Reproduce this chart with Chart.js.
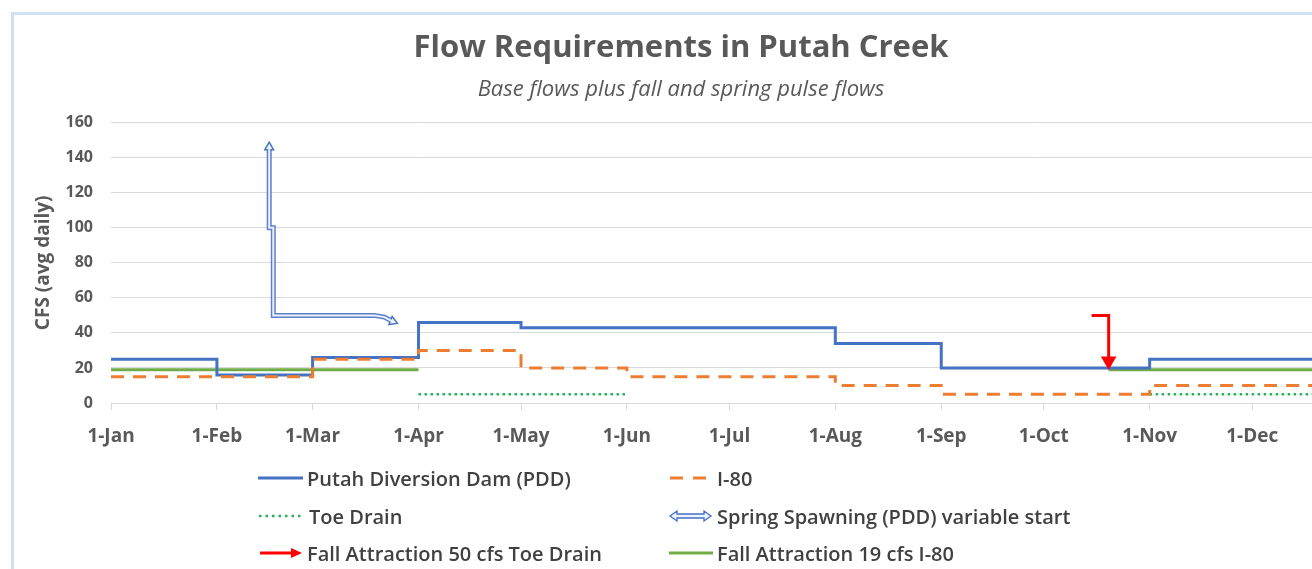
<!DOCTYPE html>
<html lang="en">
<head>
<meta charset="UTF-8" />
<title>Flow Requirements in Putah Creek</title>
<script src="https://cdn.jsdelivr.net/npm/chart.js"></script>
<style>
  * { margin: 0; padding: 0; box-sizing: border-box; }
  html, body { width: 1312px; height: 569px; overflow: hidden; background: #fff; }
  body { position: relative; font-family: 'Open Sans', sans-serif; }
  .frame {
    position: absolute; left: 11px; top: 12px; width: 1340px; height: 600px;
    border-top: 3px solid #cfe1f3; border-left: 3px solid #cfe1f3;
  }
  #wrap { position: absolute; left: 0; top: 0; width: 1350px; height: 569px; }
  .item {
    position: absolute; display: flex; align-items: center; height: 26px;
    font-size: 20px; font-weight: 600; color: #404040; white-space: nowrap;
  }
  .item svg { margin-right: 3px; }
</style>
</head>
<body>
  <div class="frame"></div>
  <div id="wrap"><canvas id="flowChart"></canvas></div>

  <div class="item" style="left:258px; top:465px;">
    <svg width="46" height="14"><line x1="0" y1="7" x2="45" y2="7" stroke="#4472c4" stroke-width="3"/></svg>
    <span id="lg0"></span>
  </div>
  <div class="item" style="left:668px; top:465px;">
    <svg width="46" height="14"><line x1="2" y1="7" x2="42" y2="7" stroke="#ed7d31" stroke-width="3" stroke-dasharray="13 10"/></svg>
    <span id="lg1"></span>
  </div>
  <div class="item" style="left:256px; top:503px;">
    <svg width="50" height="14"><line x1="3" y1="7" x2="48" y2="7" stroke="#22b35c" stroke-width="2.5" stroke-dasharray="2.5 4"/></svg>
    <span id="lg2"></span>
  </div>
  <div class="item" style="left:668px; top:503px;">
    <svg width="46" height="14"><path d="M2,7 L9,2 L9,5 L36,5 L36,2 L43,7 L36,12 L36,9 L9,9 L9,12 Z" fill="#eef2fb" stroke="#4472c4" stroke-width="1.3"/></svg>
    <span id="lg3"></span>
  </div>
  <div class="item" style="left:258px; top:540px;">
    <svg width="46" height="14"><line x1="2" y1="7" x2="36" y2="7" stroke="#ff0000" stroke-width="3"/><polygon points="33,2 44,7 33,12" fill="#ff0000"/></svg>
    <span id="lg4"></span>
  </div>
  <div class="item" style="left:668px; top:540px;">
    <svg width="46" height="14"><line x1="1" y1="7" x2="45" y2="7" stroke="#70ad47" stroke-width="3"/></svg>
    <span id="lg5"></span>
  </div>

<script>
  // x values are day of year (1-Jan = 0)
  const monthStarts = [0, 31, 59, 90, 120, 151, 181, 212, 243, 273, 304, 334];
  const monthLabels = ['1-Jan', '1-Feb', '1-Mar', '1-Apr', '1-May', '1-Jun', '1-Jul', '1-Aug', '1-Sep', '1-Oct', '1-Nov', '1-Dec'];

  const seriesNames = [
    'Putah Diversion Dam (PDD)',
    'I-80',
    'Toe Drain',
    'Spring Spawning (PDD) variable start',
    'Fall Attraction 50 cfs Toe Drain',
    'Fall Attraction 19 cfs I-80'
  ];

  const pddDays = [0, 31, 59, 90, 120, 212, 243, 304, 360];
  const pddCfs  = [25, 16, 26, 46, 43, 34, 20, 25, 25];

  const i80Days = [0, 59, 90, 120, 151, 212, 243, 304, 360];
  const i80Cfs  = [15, 25, 30, 20, 15, 10, 5, 10, 10];

  const toeDays = [90, 151, 152, 304, 360];
  const toeCfs  = [5, 5, null, 5, 5];

  const fall19Days = [0, 90, 91, 292, 360];
  const fall19Cfs  = [19, 19, null, 19, 19];

  const fall50Days = [287, 292, 292];
  const fall50Cfs  = [50, 50, 24];

  const spawnDays = [46.3, 46.3, 47.5, 47.5, 77, 80, 82.5];
  const spawnCfs  = [146, 100, 100, 50, 50, 49, 46.5];

  const pts = (xs, ys) => xs.map((x, i) => ({ x: x, y: ys[i] }));

  seriesNames.forEach((n, i) => { document.getElementById('lg' + i).textContent = n; });

  const yFont = { family: 'Open Sans', size: 16, weight: 'bold' };

  new Chart(document.getElementById('flowChart'), {
    type: 'line',
    data: {
      datasets: [
        { label: seriesNames[0], data: pts(pddDays, pddCfs), borderColor: '#4472c4', borderWidth: 3, stepped: true, pointRadius: 0, order: 3 },
        { label: seriesNames[1], data: pts(i80Days, i80Cfs), borderColor: '#ed7d31', borderWidth: 3, borderDash: [13, 9], stepped: true, pointRadius: 0, order: 2 },
        { label: seriesNames[2], data: pts(toeDays, toeCfs), borderColor: '#22b35c', borderWidth: 2.5, borderDash: [2.5, 3.5], pointRadius: 0, order: 4 },
        { label: seriesNames[3], data: pts(spawnDays, spawnCfs), borderColor: '#5b7fcf', borderWidth: 5, pointStyle: 'triangle',
          pointRadius: [5, 0, 0, 0, 0, 0, 5], pointRotation: [0, 0, 0, 0, 0, 0, 112],
          pointBackgroundColor: '#eef2fb', pointBorderColor: '#4472c4', pointBorderWidth: 1.5, order: 1 },
        { label: seriesNames[3] + ' inner', data: pts(spawnDays, spawnCfs), borderColor: '#eef2fb', borderWidth: 2, pointRadius: 0, order: 0 },
        { label: seriesNames[4], data: pts(fall50Days, fall50Cfs), borderColor: '#ff0000', borderWidth: 3, pointStyle: 'triangle',
          pointRadius: [0, 0, 6], pointRotation: [0, 0, 180], pointBackgroundColor: '#ff0000', pointBorderColor: '#ff0000', order: 0 },
        { label: seriesNames[5], data: pts(fall19Days, fall19Cfs), borderColor: '#70ad47', borderWidth: 3, pointRadius: 0, order: 4 }
      ]
    },
    options: {
      responsive: true,
      maintainAspectRatio: false,
      animation: false,
      layout: { padding: { left: 20, right: 8, top: 0, bottom: 114 } },
      plugins: {
        legend: { display: false },
        tooltip: { enabled: false },
        title: {
          display: true, text: 'Flow Requirements in Putah Creek', color: '#595959',
          font: { family: 'Open Sans', size: 31, weight: 'bold' }, padding: { top: 30, bottom: 0 }
        },
        subtitle: {
          display: true, text: 'Base flows plus fall and spring pulse flows', color: '#595959',
          font: { family: 'Open Sans', size: 22, style: 'italic' }, padding: { top: 9, bottom: 20 }
        }
      },
      scales: {
        x: {
          type: 'linear', min: 0, max: 360,
          afterBuildTicks: s => { s.ticks = monthStarts.map(v => ({ value: v })); },
          afterFit: s => { s.height = 52; },
          ticks: {
            autoSkip: false, maxRotation: 0, padding: 15, color: '#595959',
            font: { family: 'Open Sans', size: 19, weight: 'bold' },
            callback: v => monthLabels[monthStarts.indexOf(v)]
          },
          grid: { drawOnChartArea: false, drawTicks: true, tickLength: 7, color: '#d9d9d9' },
          border: { display: true, color: '#d9d9d9', width: 1 }
        },
        y: {
          min: 0, max: 160,
          afterFit: s => { s.width = 91; },
          ticks: { stepSize: 20, padding: 18, color: '#595959', font: yFont },
          grid: { color: '#d9d9d9', drawTicks: false },
          border: { display: false },
          title: {
            display: true, text: 'CFS (avg daily)', color: '#595959',
            font: { family: 'Open Sans', size: 19, weight: 'bold' }, padding: { top: 12, bottom: 0 }
          }
        }
      }
    }
  });
</script>
</body>
</html>
